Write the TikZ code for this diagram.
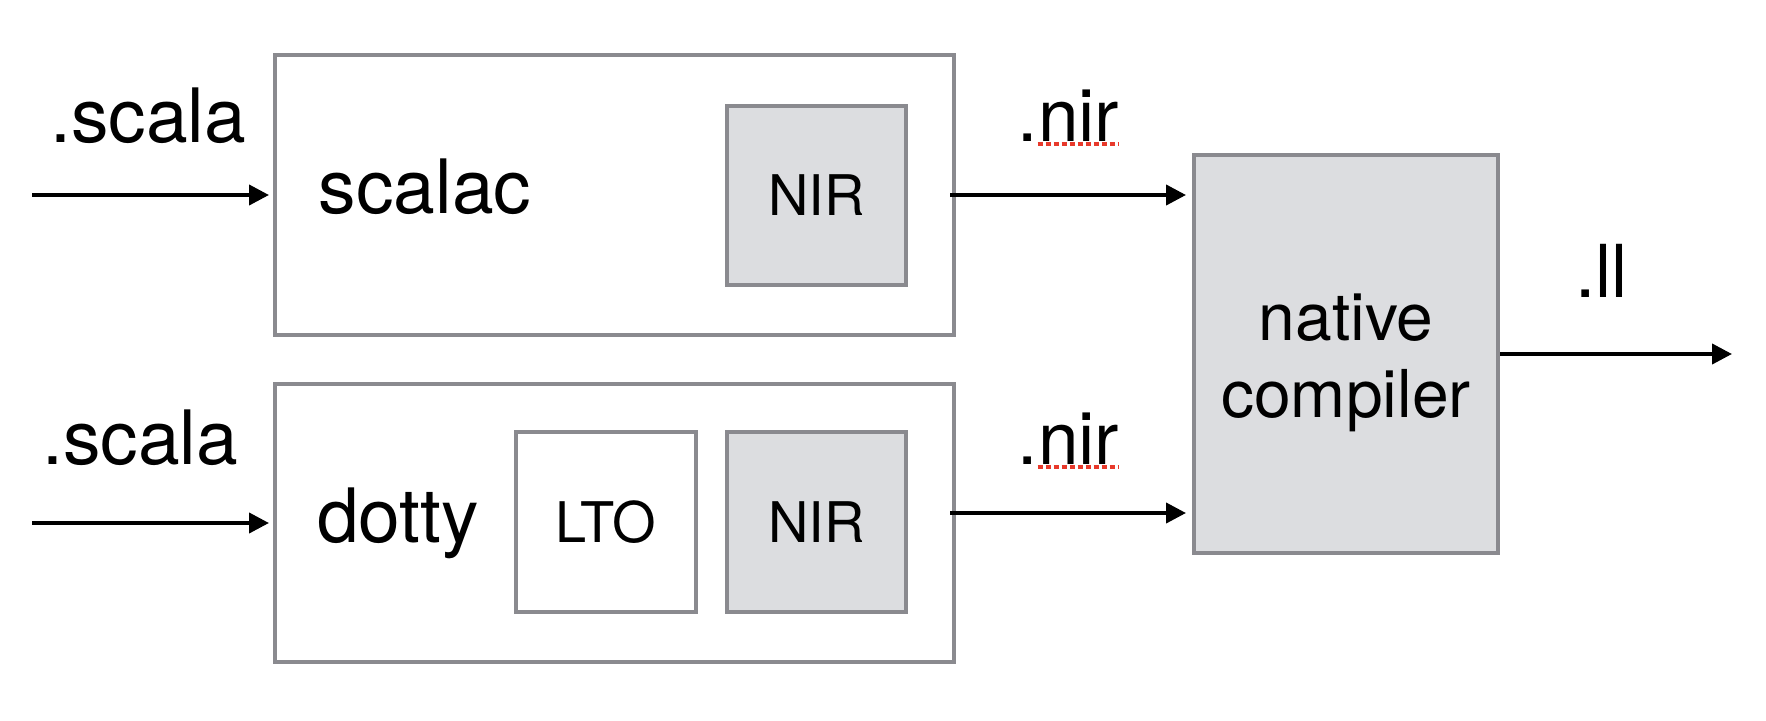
\documentclass[tikz,border=0pt]{standalone}
\usepackage{fontspec}
\setmainfont{TeX Gyre Heros}
\usetikzlibrary{arrows.meta,calc}

\definecolor{boxgray}{RGB}{138,138,143}
\definecolor{boxfill}{RGB}{220,221,224}
\definecolor{spellred}{RGB}{232,57,43}

\tikzset{
  frame/.style={draw=boxgray, line width=4pt, inner sep=0pt, fill=white,
                font=\fontsize{56}{67}\selectfont},
  shaded/.style={frame, fill=boxfill},
  lbl/.style={inner sep=0pt, font=\fontsize{75}{90}\selectfont},
  smalllbl/.style={inner sep=0pt, font=\fontsize{73}{88}\selectfont},
  boxlbl/.style={inner sep=0pt, font=\fontsize{66}{79}\selectfont},
  flow/.style={line width=4pt, -{Triangle[length=20pt,width=20pt]}},
  spell/.style={draw=spellred, line width=4pt, dash pattern=on 5pt off 3pt}
}

\begin{document}
\begin{tikzpicture}[x=1pt, y=-1pt]
  \useasboundingbox (0,0) rectangle (1766,720);

  % front ends
  \node[frame, minimum width=679pt, minimum height=280pt] (scalac) at (614.5,195) {};
  \node[lbl, anchor=base west] (scalactxt) at (318.5,213) {scalac};
  \node[shaded, minimum width=179pt, minimum height=179pt] (nirA) at (816.5,195.5) {NIR};

  \node[frame, minimum width=679pt, minimum height=278pt] (dotty) at (614.5,523) {};
  \node[lbl, anchor=base west] (dottytxt) at (317,542) {dotty};
  \node[frame, minimum width=180pt, minimum height=180pt] (lto) at (606,522) {LTO};
  \node[shaded, minimum width=179pt, minimum height=180pt] (nirB) at (816.5,522) {NIR};

  % back end
  \node[shaded, minimum width=304pt, minimum height=398pt] (native) at (1346,354) {};
  \node[boxlbl, anchor=base] (nativetxt) at (1346,340) {native};
  \node[boxlbl, anchor=base] (compilertxt) at (1346,417) {compiler};

  % file labels
  \node[lbl, anchor=base west] (srcAtxt) at (50,142) {.scala};
  \node[lbl, anchor=base west] (srcBtxt) at (42,464) {.scala};
  \node[smalllbl, anchor=base west] (nirAtxt) at (1017.5,141) {.nir};
  \node[smalllbl, anchor=base west] (nirBtxt) at (1017.5,464) {.nir};
  \node[smalllbl, anchor=base west] (lltxt) at (1575,297) {.ll};

  % spell-check underlines
  \draw[spell] ($(nirAtxt.base west)+(20,2.5)$) -- ($(nirAtxt.base east)+(-1,2.5)$);
  \draw[spell] ($(nirBtxt.base west)+(20,2.5)$) -- ($(nirBtxt.base east)+(-1,2.5)$);

  % connectors
  \coordinate (srcA) at (32,195);
  \coordinate (srcB) at (32,523);
  \coordinate (sink) at (1732,354);

  \draw[flow, shorten >=4pt] (srcA) -- (scalac.west);
  \draw[flow, shorten >=4pt] (srcB) -- (dotty.west);
  \draw[flow, shorten <=-6pt, shorten >=6pt] (scalac.east) -- (scalac.east -| native.west);
  \draw[flow, shorten <=-6pt, shorten >=6pt] ([yshift=10pt]dotty.east) -- ([yshift=10pt]dotty.east -| native.west);
  \draw[flow] (native.east) -- (sink);
\end{tikzpicture}
\end{document}
